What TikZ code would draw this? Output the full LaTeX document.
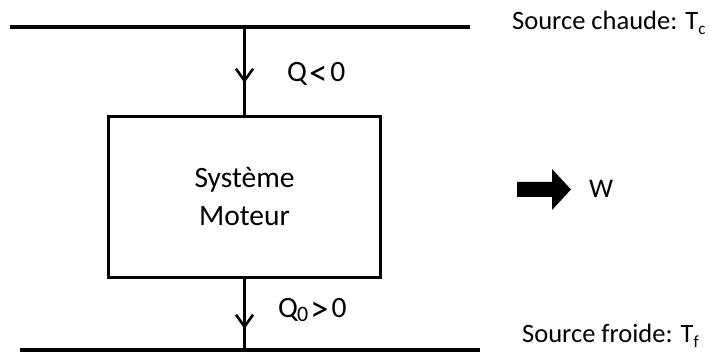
\documentclass[tikz,border=0pt]{standalone}
\usepackage{fontspec}
\setmainfont{Carlito}
\usetikzlibrary{arrows.meta,decorations.markings}
\newcommand{\biglt}{\raisebox{-4pt}{\fontsize{37}{38}\selectfont<}}
\newcommand{\biggt}{\raisebox{-4pt}{\fontsize{37}{38}\selectfont>}}
\begin{document}
\begin{tikzpicture}[x=1pt,y=-1pt,
  bar/.style={line width=4pt},
  flow/.style={line width=3pt, postaction={decorate},
    decoration={markings, mark=at position #1 with {\arrow{Straight Barb[length=12pt,width=17pt,line width=2.6pt]}}}},
  lbl/.style={inner sep=0pt, anchor=base west},
  big/.style={font=\fontsize{29.5}{38}\selectfont},
  mid/.style={font=\fontsize{26.5}{30}\selectfont}]
\useasboundingbox (0,0) rectangle (710,358);
\coordinate (t1) at (10,27);
\coordinate (t2) at (470,27);
\coordinate (b1) at (20,350);
\coordinate (b2) at (480,350);
\draw[bar] (t1) -- (t2);
\draw[bar] (b1) -- (b2);
\node[draw, line width=3pt, minimum width=272pt, minimum height=161pt,
  inner sep=0pt, outer sep=0pt, align=center, big] (sys) at (244.5,197) {Système\\Moteur};
\draw[flow=0.626] (sys.north |- t1) -- (sys.north);
\draw[flow=0.71] (sys.south) -- (sys.south |- b1);
\node[lbl, big] (q) at (287,82) {Q\kern2pt\biglt\kern3pt0};
\node[lbl, big] (q0) at (278,317) {Q\kern-1pt\raisebox{-5pt}{\fontsize{22}{22}\selectfont 0}\kern2pt\biggt\kern3pt0};
\node[lbl, mid] (sc) at (512,30) {Source chaude: T\raisebox{-5pt}{\fontsize{17}{17}\selectfont c}};
\node[lbl, mid] (sf) at (522,342) {Source froide: T\raisebox{-5pt}{\fontsize{17}{17}\selectfont f}};
\coordinate (a0) at (517,189.5);
\fill (a0) ++(0,-7.5) -- ++(35,0) -- ++(0,-13) -- ++(19,20.5) -- ++(-19,20.5) -- ++(0,-13) -- ++(-35,0) -- cycle;
\node[lbl, font=\fontsize{27}{30}\selectfont] (w) at (589,198) {W};
\end{tikzpicture}
\end{document}
